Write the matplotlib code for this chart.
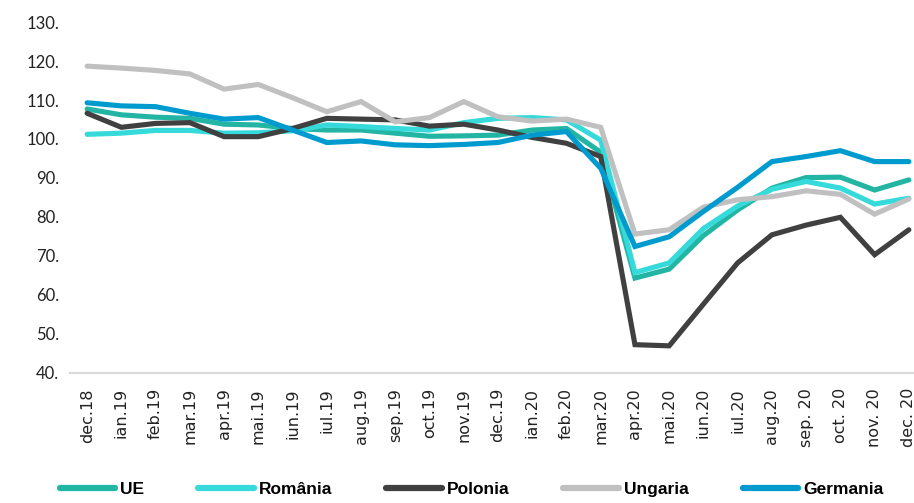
import matplotlib
matplotlib.use("Agg")
import matplotlib.pyplot as plt

months = ["dec.18", "ian.19", "feb.19", "mar.19", "apr.19", "mai.19", "iun.19",
          "iul.19", "aug.19", "sep.19", "oct.19", "nov.19", "dec.19", "ian.20",
          "feb.20", "mar.20", "apr.20", "mai.20", "iun.20", "iul.20", "aug.20",
          "sep. 20", "oct. 20", "nov. 20", "dec. 20"]

ue = [107.7, 106.2, 105.6, 105.3, 103.8, 103.6, 102.7, 102.3, 102.3, 101.5,
      100.7, 100.8, 101.0, 102.3, 102.7, 96.6, 64.3, 66.6, 75.2, 81.8,
      87.4, 90.1, 90.2, 86.9, 89.5]
romania = [101.2, 101.5, 102.2, 102.2, 101.5, 101.6, 102.1, 103.6, 103.2, 102.7,
           102.3, 104.2, 105.3, 105.5, 104.9, 99.7, 65.7, 68.2, 77.0, 82.8,
           87.1, 89.1, 87.4, 83.3, 84.8]
polonia = [106.6, 103.0, 104.0, 104.2, 100.6, 100.6, 102.7, 105.3, 105.1, 104.9,
           103.3, 103.8, 102.3, 100.4, 98.9, 95.5, 47.2, 46.9, 57.6, 68.2,
           75.4, 77.9, 79.9, 70.3, 76.7]
ungaria = [118.7, 118.2, 117.6, 116.7, 112.8, 114.0, 110.6, 107.0, 109.6, 104.4,
           105.5, 109.6, 105.7, 104.6, 105.1, 103.0, 75.6, 76.7, 82.5, 84.4,
           85.2, 86.7, 85.8, 80.7, 84.6]
germania = [109.3, 108.5, 108.3, 106.6, 105.1, 105.5, 102.3, 99.1, 99.5, 98.5,
            98.3, 98.6, 99.1, 101.0, 101.9, 92.5, 72.4, 74.9, 81.4, 87.6,
            94.2, 95.5, 97.0, 94.2, 94.2]

series = [("UE", ue, "#22B5A4"),
          ("România", romania, "#36DADA"),
          ("Polonia", polonia, "#404040"),
          ("Ungaria", ungaria, "#C0C0C0"),
          ("Germania", germania, "#009BCE")]

yticks = [40, 50, 60, 70, 80, 90, 100, 110, 120, 130]

fig = plt.figure(figsize=(9.14, 5.03), dpi=100)
ax = fig.add_axes([0.0766, 0.259, 0.9365, 0.697])

x = list(range(len(months)))
for name, vals, col in series:
    ax.plot(x, vals, color=col, lw=3.7, label=name, solid_capstyle="round",
            solid_joinstyle="miter")

ax.set_xlim(-0.5, 24.5)
ax.set_ylim(40, 130)
ax.set_yticks(yticks)
ax.set_yticklabels([f"{v}." for v in yticks], fontsize=12, family="Lato",
                   color="#222222")
ax.set_xticks(x)
ax.set_xticklabels(months, rotation=90, fontsize=11.5, family="DejaVu Sans",
                   color="#222222", va="top")
ax.tick_params(axis="both", length=0)
ax.tick_params(axis="y", pad=8)
ax.tick_params(axis="x", pad=11)

for s in ["top", "right", "left"]:
    ax.spines[s].set_visible(False)
ax.spines["bottom"].set_color("#D9D9D9")
ax.spines["bottom"].set_linewidth(1.5)

leg = fig.legend(loc="center", bbox_to_anchor=(0.516, 0.026), ncol=5,
                 frameon=False, handlelength=3.2, handletextpad=0.3,
                 columnspacing=3.1,
                 prop={"family": "Liberation Sans", "weight": "bold",
                       "size": 12.5})
for line in leg.get_lines():
    line.set_linewidth(4.5)

fig.savefig("out.png", dpi=100)
